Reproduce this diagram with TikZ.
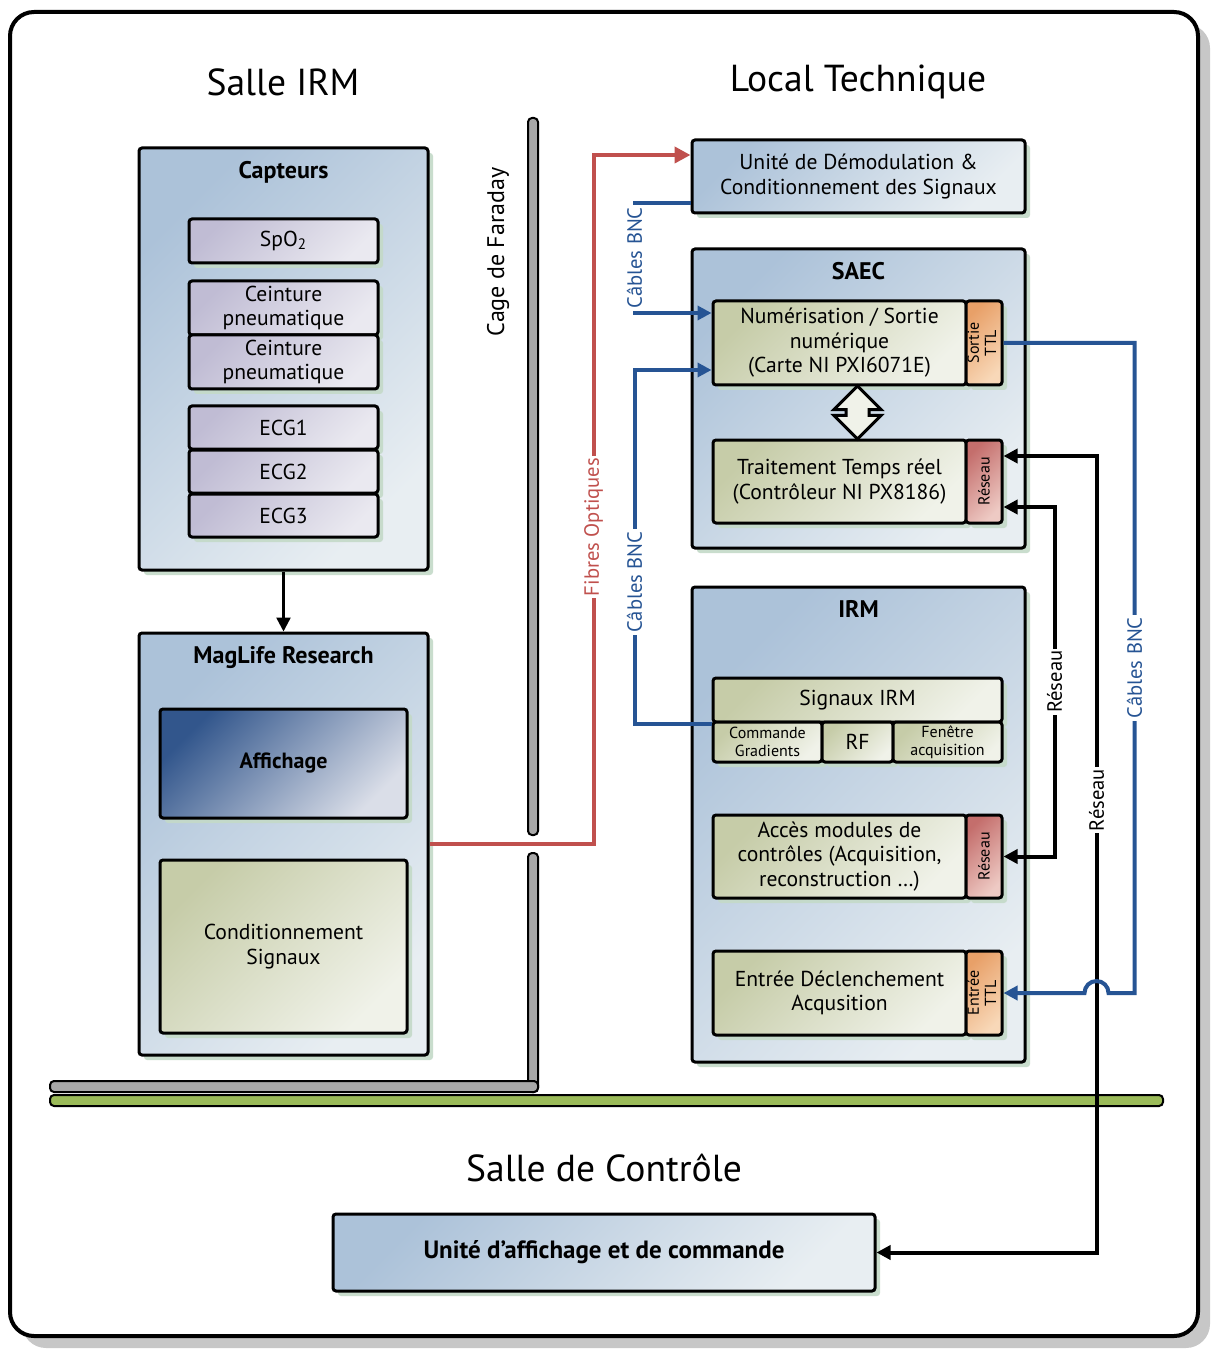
\documentclass[tikz,border=0pt]{standalone}
\usepackage{fontspec}
\setmainfont{PT Sans}
\usepackage{tikz}
\usetikzlibrary{calc,positioning,shadows,shapes.arrows,arrows.meta}

\definecolor{bleuA}{RGB}{172,194,217}
\definecolor{bleuB}{RGB}{232,238,242}
\definecolor{vertA}{RGB}{198,204,168}
\definecolor{vertB}{RGB}{240,242,233}
\definecolor{lavA}{RGB}{192,188,212}
\definecolor{lavB}{RGB}{234,233,240}
\definecolor{bleuF}{RGB}{50,86,140}
\definecolor{bleuC}{RGB}{218,222,232}
\definecolor{orA}{RGB}{232,160,104}
\definecolor{orB}{RGB}{248,216,184}
\definecolor{rosA}{RGB}{196,110,108}
\definecolor{rosB}{RGB}{238,202,196}
\definecolor{ombre}{RGB}{196,218,200}
\definecolor{bleuL}{RGB}{38,84,148}
\definecolor{rougeL}{RGB}{192,80,77}
\definecolor{gris}{RGB}{168,168,168}
\definecolor{vertM}{RGB}{155,187,89}

\def\boite[#1](#2)(#3,#4)(#5,#6)#7{\node[#1, minimum width={(#5-#3)*0.5pt}, minimum height={(#6-#4)*0.5pt}] (#2) at ({(#3+#5)/2},{(#4+#6)/2}) {#7};}

\tikzset{
	cadre/.style={draw, line width=1.5pt, rounded corners=1.5pt, inner sep=1pt, align=center,
		font=\fontsize{10.8}{12.2}\selectfont,
		drop shadow={shadow xshift=2.5pt, shadow yshift=-2.5pt, fill=ombre, opacity=0.9}},
	bloc/.style={cadre, top color=bleuA, bottom color=bleuB, shading angle=45},
	module/.style={cadre, top color=vertA, bottom color=vertB, shading angle=45},
	capteur/.style={cadre, top color=lavA, bottom color=lavB, shading angle=45},
	affiche/.style={cadre, top color=bleuF, bottom color=bleuC, shading angle=45, font=\bfseries\fontsize{11}{13}\selectfont},
	sortie/.style={cadre, top color=orA, bottom color=orB, shading angle=45, inner sep=0pt, font=\fontsize{8}{8.6}\selectfont},
	reseau/.style={cadre, top color=rosA, bottom color=rosB, shading angle=45, inner sep=0pt, font=\fontsize{8}{8.6}\selectfont},
	petit/.style={inner sep=0.5pt, font=\fontsize{8}{9}\selectfont},
	titre/.style={font=\bfseries\fontsize{12}{14}\selectfont},
	salle/.style={font=\fontsize{18.8}{22}\selectfont},
	etiq/.style={fill=white, inner sep=1pt, rotate=90, font=\fontsize{10.3}{12}\selectfont},
	fibre/.style={draw=rougeL, line width=2pt, -{Triangle[length=8pt,width=8pt]}},
	lienbnc/.style={draw=bleuL, line width=2pt, -{Triangle[length=7pt,width=7pt]}},
	lienres/.style={draw=black, line width=2pt, {Triangle[length=7pt,width=7pt]}-{Triangle[length=7pt,width=7pt]}},
	fleche/.style={line width=1.2pt, -{Triangle[length=7pt,width=7pt]}},
	mur/.style={draw, line width=1pt, fill=gris, rounded corners=2pt},
	fond/.style={draw, line width=2pt, rounded corners=12pt, fill=white,
		drop shadow={shadow xshift=6pt, shadow yshift=-6pt, fill=black!22, opacity=1}},
	echange/.style={double arrow, draw, line width=1.5pt, fill=vertB, double arrow head extend=6pt,
		text height=5pt, text depth=5pt, minimum height=26.5pt, inner sep=0pt}
}

\begin{document}
\begin{tikzpicture}[x=0.5pt,y=-0.5pt]
				%%%%% START %%%%%
				\useasboundingbox (0,0) rectangle (1222,1352);
				\draw[fond] (10,12) rectangle (1198,1336);
				
				\node[salle] (sirm) at (283,82) {Salle IRM};
				\node[salle] (ltech) at (858,82) {Local Technique};
				\node[salle] (sctrl) at (604,1168) {Salle de Contrôle};
				
				% cage de Faraday
				\draw[mur] (528,118) rectangle (538,835);
				\draw[mur] (528,853) rectangle (538,1092);
				\draw[mur] (50,1081) rectangle (538,1092);
				\draw[mur, fill=vertM] (50,1095) rectangle (1163,1106);
				\node[rotate=90, font=\fontsize{12}{14}\selectfont] (cage) at (498,252) {Cage de Faraday};
				
				% salle IRM
				\boite[bloc](capteurs)(139,148)(428,570){}
				\node[titre, below=4pt of capteurs.north] (tcapteurs) {Capteurs};
				\boite[capteur](spo)(189,219)(378,263){SpO\textsubscript{2}}
				\boite[capteur](ceint1)(189,281)(378,335){Ceinture\\pneumatique}
				\boite[capteur](ceint2)(189,335)(378,389){Ceinture\\pneumatique}
				\foreach \i/\y in {1/406,2/450,3/494}
					\boite[capteur](ecg\i)(189,\y)(378,\y+43){ECG\i};
				
				\boite[bloc](maglife)(139,633)(428,1055){}
				\node[titre, below=4pt of maglife.north] (tmaglife) {MagLife Research};
				\boite[affiche](affichage)(160,709)(407,818){Affichage}
				\boite[module](condit)(160,860)(407,1033){Conditionnement\\Signaux}
				
				\draw[fleche] (capteurs.south) -- (maglife.north);
				
				% local technique
				\boite[bloc](demod)(692,140)(1025,213){Unité de Démodulation \&\\Conditionnement des Signaux}
				
				\boite[bloc](saec)(692,249)(1025,548){}
				\node[titre, below=4pt of saec.north] (tsaec) {SAEC};
				\boite[module](num)(713,301)(966,385){Numérisation / Sortie\\numérique\\(Carte NI PXI6071E)}
				\boite[sortie](ttlout)(966,301)(1002,385){\rotatebox{90}{\begin{tabular}{@{}c@{}}Sortie\\TTL\end{tabular}}}
				\boite[module](trait)(713,440)(966,523){Traitement Temps réel\\(Contrôleur NI PX8186)}
				\boite[reseau](res1)(966,440)(1002,523){\rotatebox{90}{Réseau}}
				\node[echange, rotate=90] (echange) at ($(num.south west)!0.5!(res1.north east)$) {};
				
				\boite[bloc](irm)(692,587)(1025,1062){}
				\node[titre, below=4pt of irm.north] (tirm) {IRM};
				\boite[module](sig)(713,678)(1002,722){Signaux IRM}
				\boite[module, petit](grad)(713,722)(822,762){Commande\\Gradients}
				\boite[module](rf)(822,722)(893,762){RF}
				\boite[module, petit](fen)(893,722)(1002,762){Fenêtre\\acquisition}
				\boite[module](acces)(713,815)(966,898){Accès modules de\\contrôles (Acquisition,\\reconstruction \ldots)}
				\boite[reseau](res2)(966,815)(1002,898){\rotatebox{90}{Réseau}}
				\boite[module](entree)(713,951)(966,1035){Entrée Déclenchement\\Acqusition}
				\boite[sortie](ttlin)(966,951)(1002,1035){\rotatebox{90}{\begin{tabular}{@{}c@{}}Entrée\\TTL\end{tabular}}}
				
				% salle de controle
				\boite[bloc, font=\bfseries\fontsize{12.5}{14}\selectfont](unite)(333,1214)(875,1291){Unité d’affichage et de commande}
				
				% liaisons
				\draw[fibre] (maglife.east) -- ++(164,0) |- ([yshift=10.75pt]demod.west) node[etiq, text=rougeL, pos=0.23] {Fibres Optiques};
				\draw[lienbnc] ([yshift=-13.25pt]demod.west) -- ++(-56,0) |- ([yshift=15pt]num.west) node[etiq, text=bleuL, pos=0.25] {Câbles BNC};
				\draw[lienbnc] (sig.south west) -- ++(-77,0) |- ([yshift=-13.5pt]num.west) node[etiq, text=bleuL, pos=0.2] {Câbles BNC};
				\draw[lienres] ([yshift=-12.75pt]res1.east) -- ++(51,0) |- (res2.east) node[etiq, pos=0.25] {Réseau};
				\draw[lienres] ([yshift=12.75pt]res1.east) -- ++(93,0) |- (unite.east) node[etiq, pos=0.216] {Réseau};
				\draw[lienbnc] (ttlout.east) -- ++(131,0) -- ++(0,650) node[etiq, text=bleuL, midway] {Câbles BNC}
					-- ++(-26,0) arc[start angle=0, end angle=180, radius=6pt] -- (ttlin.east);
				%%%%% END %%%%%
\end{tikzpicture}
\end{document}
